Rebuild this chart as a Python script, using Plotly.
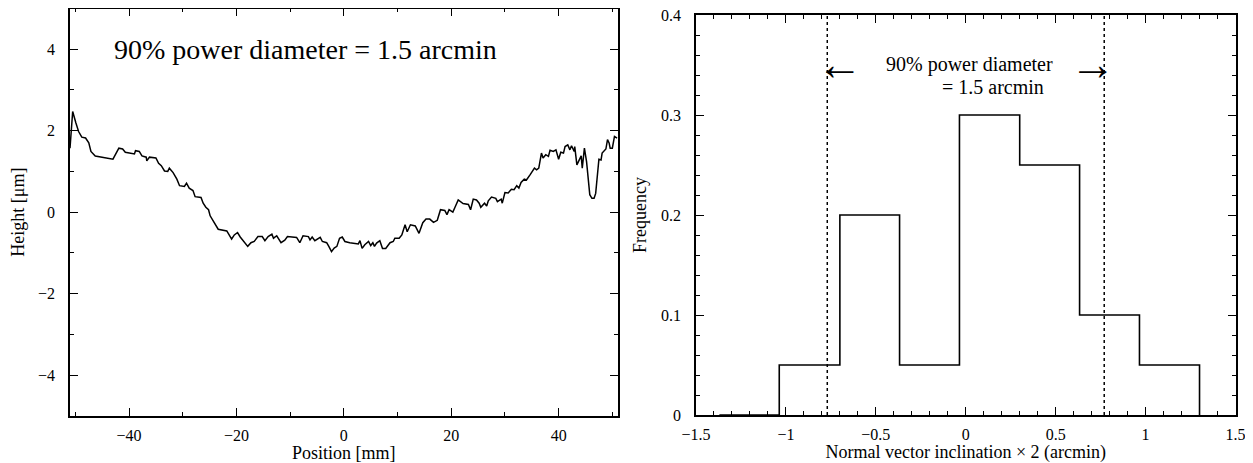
import plotly.graph_objects as go

# ---------------- Left panel: surface height profile ----------------
position_mm = [-51.0, -50.5, -49.9, -49.4, -48.8, -48.1, -47.5, -47.1, -46.3, -43.0,
               -41.9, -41.2, -40.7, -39.0, -38.8, -38.1, -37.6, -36.8, -36.7, -36.2,
               -35.0, -34.5, -34.0, -33.4, -32.8, -32.5, -31.8, -31.1, -30.6, -29.7,
               -29.3, -28.8, -28.1, -27.7, -26.6, -26.2, -25.7, -25.2, -24.9, -24.3,
               -23.9, -23.4, -21.8, -21.4, -20.9, -20.4, -19.8, -19.3, -18.7, -17.9,
               -17.3, -16.7, -16.0, -15.2, -14.7, -14.1, -13.4, -13.1, -12.5, -11.7,
               -11.0, -10.5, -8.8, -8.2, -7.6, -6.6, -6.3, -5.9, -5.4, -4.4,
               -4.0, -3.2, -2.8, -2.3, -1.8, -1.3, -0.8, -0.3, 0.2, 1.1,
               2.7, 3.0, 3.4, 3.9, 4.6, 5.0, 5.4, 5.7, 6.1, 6.7,
               7.2, 7.8, 8.6, 9.2, 9.5, 10.3, 10.8, 11.4, 11.8, 12.4,
               13.3, 14.0, 14.7, 15.3, 16.0, 16.7, 17.4, 18.0, 18.8, 19.2,
               19.6, 20.3, 20.7, 21.3, 22.2, 23.2, 23.6, 24.1, 24.7, 25.2,
               25.5, 26.2, 26.6, 26.9, 27.5, 28.3, 28.6, 29.3, 29.5, 30.0,
               30.6, 31.2, 31.7, 32.2, 32.6, 33.0, 33.6, 34.0, 34.7, 35.1,
               35.5, 35.9, 36.3, 36.8, 37.1, 37.6, 38.1, 38.4, 39.0, 39.5,
               40.0, 40.4, 40.9, 41.2, 41.7, 42.1, 42.4, 42.9, 43.0, 43.4,
               43.8, 44.2, 44.4, 44.8, 45.2, 45.5, 45.8, 46.2, 46.6, 46.9,
               47.3, 47.5, 47.9, 48.1, 48.8, 49.1, 49.4, 49.6, 50.0, 50.4,
               50.9]
height_um = [1.57, 2.47, 2.19, 1.98, 1.84, 1.82, 1.70, 1.49, 1.38, 1.30,
             1.57, 1.55, 1.47, 1.43, 1.51, 1.49, 1.38, 1.35, 1.26, 1.35,
             1.33, 1.20, 1.14, 1.01, 1.00, 1.08, 0.97, 0.81, 0.65, 0.63,
             0.71, 0.59, 0.53, 0.38, 0.36, 0.22, 0.12, 0.06, -0.09, -0.21,
             -0.31, -0.42, -0.46, -0.56, -0.66, -0.56, -0.50, -0.61, -0.72, -0.84,
             -0.75, -0.72, -0.60, -0.60, -0.70, -0.60, -0.54, -0.64, -0.58, -0.75,
             -0.69, -0.60, -0.62, -0.75, -0.58, -0.60, -0.68, -0.61, -0.70, -0.62,
             -0.72, -0.75, -0.84, -0.97, -0.88, -0.84, -0.64, -0.61, -0.72, -0.75,
             -0.78, -0.70, -0.89, -0.80, -0.72, -0.82, -0.75, -0.84, -0.76, -0.70,
             -0.89, -0.89, -0.75, -0.72, -0.64, -0.64, -0.56, -0.31, -0.48, -0.31,
             -0.34, -0.52, -0.26, -0.17, -0.17, -0.25, -0.20, 0.06, 0.04, -0.06,
             0.06, 0.00, 0.12, 0.30, 0.21, 0.19, 0.06, 0.32, 0.30, 0.22,
             0.12, 0.22, 0.15, 0.28, 0.37, 0.34, 0.26, 0.32, 0.22, 0.48,
             0.47, 0.56, 0.55, 0.65, 0.59, 0.73, 0.81, 0.79, 0.92, 1.00,
             1.08, 1.04, 1.08, 1.45, 1.33, 1.41, 1.37, 1.52, 1.49, 1.53,
             1.30, 1.47, 1.45, 1.61, 1.65, 1.53, 1.63, 1.49, 1.61, 1.16,
             1.28, 1.38, 1.08, 1.57, 1.24, 0.88, 0.43, 0.34, 0.34, 0.46,
             1.16, 1.30, 1.28, 1.45, 1.55, 1.78, 1.70, 1.57, 1.57, 1.86,
             1.82]

# ---------------- Right panel: histogram ----------------
bin_edges = [-1.37, -1.037, -0.700, -0.368, -0.035, 0.300, 0.633, 0.966, 1.300]
frequency = [0.0, 0.05, 0.20, 0.05, 0.30, 0.25, 0.10, 0.05]
power_bounds = [-0.77, 0.77]

left_xtickvals = [-40, -20, 0, 20, 40]
left_ytickvals = [-4, -2, 0, 2, 4]
right_xtickvals = [-1.5, -1, -0.5, 0, 0.5, 1, 1.5]
right_ytickvals = [0, 0.1, 0.2, 0.3, 0.4]

# page body has an 8px default margin: size the figure so it ends at the window edge
OFF = 8
W, H = 1253 - OFF, 463 - OFF
FONT = "Times New Roman, Liberation Serif, serif"


def fx(px):
    return (px - OFF) / W


def fy(py):
    return 1 - (py - OFF) / H


# step outline of histogram
step_x = list(bin_edges) + [bin_edges[-1]]
step_y = list(frequency) + [frequency[-1], 0.0]

fig = go.Figure()

fig.add_trace(go.Scatter(x=position_mm, y=height_um, mode="lines",
                         line=dict(color="black", width=1.5),
                         xaxis="x", yaxis="y", showlegend=False))

fig.add_trace(go.Scatter(x=step_x, y=step_y, mode="lines", line_shape="hv",
                         line=dict(color="black", width=1.6),
                         xaxis="x2", yaxis="y2", showlegend=False))

for b in power_bounds:
    fig.add_trace(go.Scatter(x=[b, b], y=[0, 0.4], mode="lines",
                             line=dict(color="black", width=1.5, dash="dot"),
                             xaxis="x2", yaxis="y2", showlegend=False))

axis_common = dict(showline=True, linecolor="black", linewidth=1.7, mirror="allticks",
                   ticks="inside", ticklen=8, tickwidth=1, tickcolor="black",
                   showgrid=False, zeroline=False, automargin=False,
                   ticklabeloverflow="allow",
                   tickfont=dict(family=FONT, size=16, color="black"))

fig.update_layout(
    width=W, height=H,
    margin=dict(l=0, r=0, t=0, b=0, autoexpand=False),
    paper_bgcolor="white", plot_bgcolor="white",
    font=dict(family=FONT, color="black"),
    xaxis=dict(domain=[fx(70), fx(617.7)], range=[-51, 51], anchor="y",
               tickmode="array", tickvals=left_xtickvals, ticklabelstandoff=4,
               minor=dict(dtick=10, tick0=0, ticks="inside", ticklen=4, tickcolor="black"),
               title=dict(text="Position [mm]", font=dict(family=FONT, size=18), standoff=2),
               **axis_common),
    yaxis=dict(domain=[fy(415.8), fy(8.5)], range=[-5, 5], anchor="x",
               tickmode="array", tickvals=left_ytickvals, ticklabelstandoff=10,
               minor=dict(dtick=1, tick0=0, ticks="inside", ticklen=4, tickcolor="black"),
               title=dict(text="Height [μm]", font=dict(family=FONT, size=18), standoff=10),
               **axis_common),
    xaxis2=dict(domain=[fx(696), fx(1235.5)], range=[-1.5, 1.5], anchor="y2",
                tickmode="array", tickvals=right_xtickvals, ticklabelstandoff=4,
                minor=dict(dtick=0.1, tick0=0, ticks="inside", ticklen=4, tickcolor="black"),
                title=dict(text="Normal vector inclination × 2 (arcmin)",
                           font=dict(family=FONT, size=18), standoff=2),
                **axis_common),
    yaxis2=dict(domain=[fy(415), fy(15)], range=[0, 0.4], anchor="x2",
                tickmode="array", tickvals=right_ytickvals, ticklabelstandoff=10,
                minor=dict(dtick=0.02, tick0=0, ticks="inside", ticklen=4, tickcolor="black"),
                title=dict(text="Frequency", font=dict(family=FONT, size=18), standoff=10),
                **axis_common),
)

fig.add_annotation(x=-43.1, y=4, xref="x", yref="y", text="90% power diameter = 1.5 arcmin",
                   showarrow=False, xanchor="left", yanchor="middle",
                   font=dict(family=FONT, size=28, color="black"))

fig.add_annotation(x=0.02, y=0.3505, xref="x2", yref="y2", text="90% power diameter",
                   showarrow=False, xanchor="center", yanchor="middle", borderpad=0,
                   font=dict(family=FONT, size=20, color="black"))
fig.add_annotation(x=0.15, y=0.3275, xref="x2", yref="y2", text="= 1.5 arcmin",
                   showarrow=False, xanchor="center", yanchor="middle", borderpad=0,
                   font=dict(family=FONT, size=20, color="black"))
fig.add_annotation(x=-0.698, y=0.35, xref="x2", yref="y2", text="←",
                   showarrow=False, xanchor="center", yanchor="middle", borderpad=0,
                   font=dict(family="Liberation Serif", size=46, color="black"))
fig.add_annotation(x=0.708, y=0.35, xref="x2", yref="y2", text="→",
                   showarrow=False, xanchor="center", yanchor="middle", borderpad=0,
                   font=dict(family="Liberation Serif", size=46, color="black"))

fig.write_html("out.html")
